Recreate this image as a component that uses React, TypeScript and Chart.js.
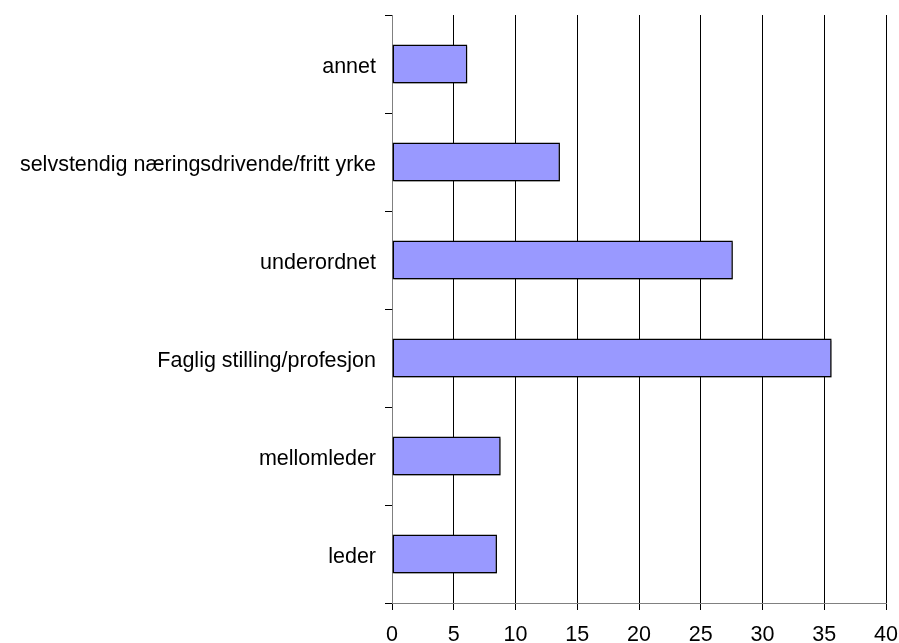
import React, { useEffect, useRef } from "react";
import { Chart, registerables } from "chart.js";

Chart.register(...registerables);

const categories: string[] = [
  "annet",
  "selvstendig næringsdrivende/fritt yrke",
  "underordnet",
  "Faglig stilling/profesjon",
  "mellomleder",
  "leder",
];
const values: number[] = [6.1, 13.6, 27.6, 35.6, 8.8, 8.5];
const xMin = 0;
const xMax = 40;
const xStep = 5;

const shadowPlugin = {
  id: "barShadow",
  beforeDatasetsDraw(chart: any) {
    const ctx = chart.ctx;
    ctx.save();
    ctx.shadowColor = "rgba(0,0,0,0.3)";
    ctx.shadowOffsetX = 2;
    ctx.shadowOffsetY = 2;
    ctx.shadowBlur = 0;
  },
  afterDatasetsDraw(chart: any) {
    chart.ctx.restore();
  },
};

export default function App() {
  const ref = useRef<HTMLCanvasElement | null>(null);
  useEffect(() => {
    document.body.style.margin = "0";
    const canvas = ref.current;
    if (!canvas) return;
    const font = { family: "'Liberation Sans', Arial, sans-serif", size: 21.5 };
    const chart = new Chart(canvas, {
      type: "bar",
      data: {
        labels: categories,
        datasets: [
          {
            data: values,
            backgroundColor: "#9999FF",
            borderColor: "#000000",
            borderWidth: 1.5,
            borderSkipped: false,
            barPercentage: 0.4,
            categoryPercentage: 1,
          },
        ],
      },
      plugins: [shadowPlugin],
      options: {
        indexAxis: "y",
        animation: false,
        responsive: false,
        maintainAspectRatio: false,
        layout: { padding: { top: 15, right: 13, left: 0, bottom: 0 } },
        plugins: { legend: { display: false }, tooltip: { enabled: false } },
        scales: {
          x: {
            type: "linear",
            min: xMin,
            max: xMax,
            ticks: { stepSize: xStep, color: "#000", font, padding: 12 },
            grid: { color: "#000", tickColor: "#000", tickLength: 7, lineWidth: 1 },
            border: { display: true, color: "#808080", width: 1 },
            afterFit: (s: any) => {
              s.height = 40;
              s.paddingLeft = 0;
              s.paddingRight = 0;
            },
          },
          y: {
            type: "category",
            ticks: { color: "#000", font, padding: 9, labelOffset: 3 },
            grid: {
              offset: true,
              drawOnChartArea: false,
              drawTicks: true,
              tickLength: 7,
              color: "#000",
              tickColor: "#000",
            },
            border: { display: true, color: "#808080", width: 1 },
            afterFit: (s: any) => {
              s.width = 392;
              s.paddingTop = 0;
              s.paddingBottom = 0;
            },
          },
        },
      },
    });
    return () => chart.destroy();
  }, []);
  return (
    <div style={{ width: 899, height: 643, background: "#fff" }}>
      <canvas ref={ref} width={899} height={643} style={{ display: "block" }} />
    </div>
  );
}
